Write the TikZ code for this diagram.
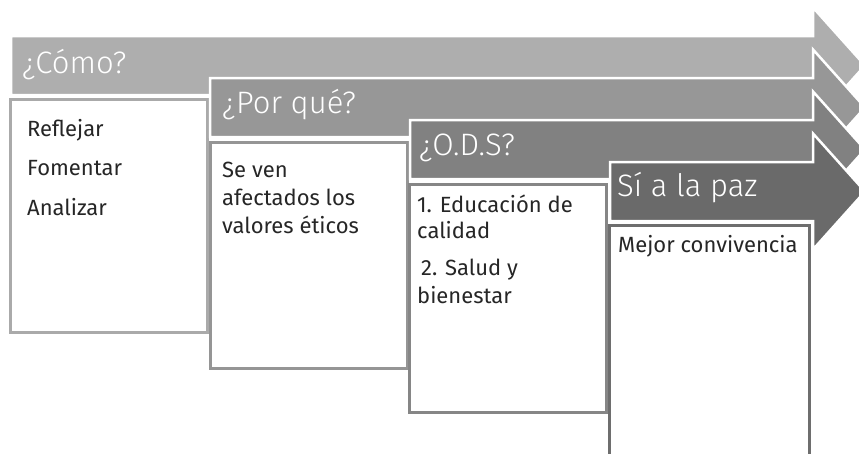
\documentclass[tikz,border=0pt]{standalone}
\usepackage{fontspec}
\setmainfont{Fira Sans}
\newfontfamily\headfont{Fira Sans Light}

\definecolor{arrowA}{HTML}{AEAEAE}
\definecolor{arrowB}{HTML}{979797}
\definecolor{arrowC}{HTML}{818181}
\definecolor{arrowD}{HTML}{6A6A6A}
\definecolor{boxA}{HTML}{AAAAAA}
\definecolor{boxB}{HTML}{959595}
\definecolor{boxC}{HTML}{868686}
\definecolor{boxD}{HTML}{6E6E6E}
\definecolor{txtgray}{HTML}{262626}

\begin{document}
\begin{tikzpicture}[
  x=1pt, y=-1pt,
  step arrow/.style={
    fill=#1,
    draw=white,
    line width=2.5pt,
    line join=miter
  },
  step box/.style={
    fill=white,
    draw=#1,
    line width=3pt
  },
  head text/.style={
    anchor=base west,
    inner sep=0pt,
    text=white,
    font=\headfont\fontsize{31}{35}\selectfont
  },
  box text/.style={
    anchor=base west,
    inner sep=0pt,
    text=txtgray,
    font=\fontsize{22}{26}\selectfont
  },
]
\useasboundingbox (0,0) rectangle (859,453);
\clip (0,0) rectangle (859,453);

% arrows and boxes, back to front
\foreach \ax/\ay/\bx/\bt/\br/\bb/\fc/\bc in {
  11/36/10/99/207/332/arrowA/boxA,
  210/78/210/142/407/368/arrowB/boxB,
  410/120/409/184/606/412/arrowC/boxC,
  610/162/609/225/809/470/arrowD/boxD}{
  \draw[step arrow=\fc] (\ax,\ay) -- (813,\ay) -- (813,\ay-28.5)
    -- (865,\ay+29.5) -- (813,\ay+87.5) -- (813,\ay+59)
    -- (\ax,\ay+59) -- cycle;
  \draw[step box=\bc] (\bx,\bt) rectangle (\br,\bb);
}

% step titles
\node[head text] (como) at (22,73) {¿Cómo?};
\node[head text] (porque) at (222,113) {¿Por qué?};
\node[head text] (ods) at (419,155) {¿O.D.S?};
\node[head text] (paz) at (617,196) {Sí a la paz};

% box texts
\node[box text] (reflejar) at (27,136) {Reflejar};
\node[box text] (fomentar) at (27,175) {Fomentar};
\node[box text] (analizar) at (27,215) {Analizar};

\node[box text] (porque-1) at (222,177) {Se ven};
\node[box text] (porque-2) at (222,205) {afectados los};
\node[box text] (porque-3) at (222,233) {valores éticos};

\node[box text] (ods-1) at (417,212) {1. Educación de};
\node[box text] (ods-2) at (417,238) {calidad};
\node[box text] (ods-3) at (421,275) {2. Salud y};
\node[box text] (ods-4) at (417,303) {bienestar};

\node[box text] (paz-1) at (618,252) {Mejor convivencia};
\end{tikzpicture}
\end{document}
